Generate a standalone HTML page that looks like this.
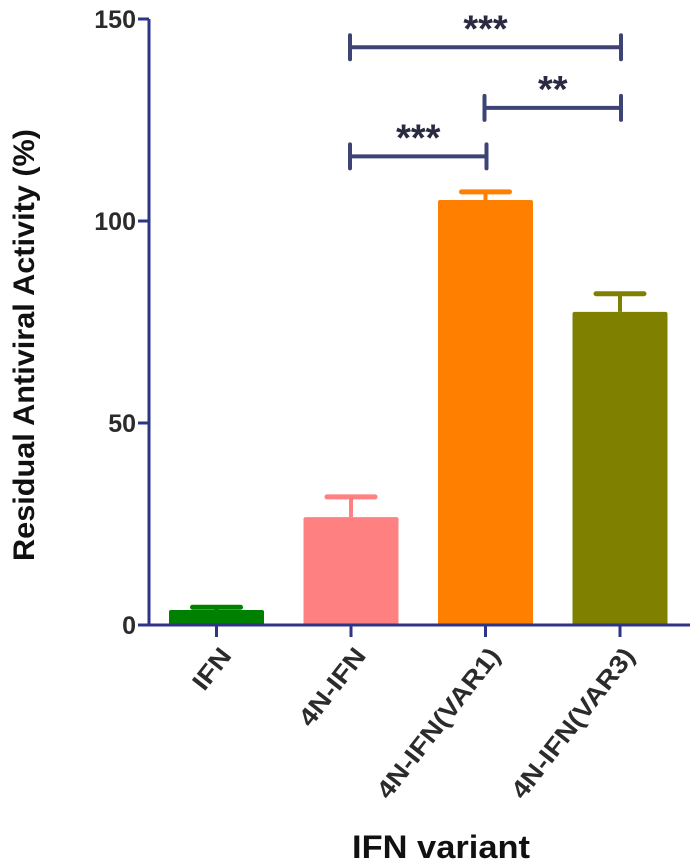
<!DOCTYPE html>
<html><head><meta charset="utf-8"><style>
html,body{margin:0;padding:0;background:#fff;}
svg{display:block;font-family:"Liberation Sans",Arial,sans-serif;}
</style></head><body>
<svg id="chart" width="693" height="863" viewBox="0 0 693 863" xmlns="http://www.w3.org/2000/svg">
<g id="plot"></g>
</svg>
<script>
const categories = ["IFN", "4N-IFN", "4N-IFN(VAR1)", "4N-IFN(VAR3)"];
const values = [3.7, 26.7, 105.2, 77.5];
const errors = [0.7, 5.0, 2.0, 4.5];
const colors = ["#008000", "#ff8080", "#ff8000", "#808000"];
const yTicks = [0, 50, 100, 150];
const brackets = [[1, 3, 143, "***"], [2, 3, 128, "**"], [1, 2, 116, "***"]];

const NS = "http://www.w3.org/2000/svg";
const g = document.getElementById("plot");
const y0 = 625, yTop = 19, yMax = 150;
const yScale = v => y0 - (v / yMax) * (y0 - yTop);
const xCenter = i => 216.5 + i * 134.5;
const barW = 95;
function mk(tag, attrs, parent) {
  const e = document.createElementNS(NS, tag);
  for (const k in attrs) e.setAttribute(k, attrs[k]);
  (parent || g).appendChild(e);
  return e;
}
const axisColor = "#2e3586";
categories.forEach((c, i) => {
  const cx = xCenter(i);
  const top = yScale(values[i]);
  const et = yScale(values[i] + errors[i]);
  const eb = mk("line", {x1: cx, x2: cx, y1: top, y2: et, stroke: colors[i], "stroke-width": 4});
  
  
  const cap = mk("line", {x1: cx - 24, x2: cx + 24, y1: et, y2: et, stroke: colors[i], "stroke-width": 5, "stroke-linecap": "round"});
  
  
  const r = mk("rect", {x: cx - barW / 2, y: top, width: barW, height: y0 - top, fill: colors[i], rx: 2});
  
  
});
const ya = mk("line", {x1: 149, x2: 149, y1: yTop, y2: y0 + 1, stroke: axisColor, "stroke-width": 3});


const xa = mk("line", {x1: 138, x2: 690, y1: y0, y2: y0, stroke: axisColor, "stroke-width": 3});


yTicks.forEach(v => {
  const y = yScale(v);
  const t = mk("line", {x1: 138, x2: 149, y1: y, y2: y, stroke: axisColor, "stroke-width": 3});
  
  
  const l = mk("text", {x: 136, y: y + 9, "text-anchor": "end", "font-size": 25, "font-weight": "bold", fill: "#2b2b2b"});
  l.textContent = v;
  
  
});
categories.forEach((c, i) => {
  const x = xCenter(i);
  const t = mk("line", {x1: x, x2: x, y1: y0, y2: y0 + 12, stroke: axisColor, "stroke-width": 3});
  
  
  const ax = x + 16, ay = 656;
  const l = mk("text", {x: ax, y: ay, "text-anchor": "end", "font-size": 25, "font-weight": "bold", fill: "#2b2b2b", transform: `rotate(-52 ${ax} ${ay})`, textLength: c.length * 15.3, lengthAdjust: "spacingAndGlyphs"});
  l.textContent = c;
  
  
});
const bc = "#3e4375";
brackets.forEach(b => {
  const x1 = xCenter(b[0]) - 1, x2 = xCenter(b[1]) + 1, y = yScale(b[2]);
  const bg = mk("g", {});
  
  
  mk("line", {x1, x2, y1: y, y2: y, stroke: bc, "stroke-width": 4}, bg);
  mk("line", {x1, x2: x1, y1: y - 12, y2: y + 12, stroke: bc, "stroke-width": 4, "stroke-linecap": "round"}, bg);
  mk("line", {x1: x2, x2, y1: y - 12, y2: y + 12, stroke: bc, "stroke-width": 4, "stroke-linecap": "round"}, bg);
  const s = mk("text", {x: (x1 + x2) / 2, y: y - 6, "text-anchor": "middle", "font-size": 38, "font-weight": "bold", fill: "#2a2a40"});
  s.textContent = b[3];
  
  
});
const yt = mk("text", {x: 0, y: 0, "text-anchor": "middle", "font-size": 30, "font-weight": "bold", fill: "#111", transform: "translate(34 345) rotate(-90)", textLength: 432, lengthAdjust: "spacingAndGlyphs"});
yt.textContent = "Residual Antiviral Activity (%)";


const xt = mk("text", {x: 441, y: 858, "text-anchor": "middle", "font-size": 32, "font-weight": "bold", fill: "#111", textLength: 178, lengthAdjust: "spacingAndGlyphs"});
xt.textContent = "IFN variant";


</script>
</body></html>
